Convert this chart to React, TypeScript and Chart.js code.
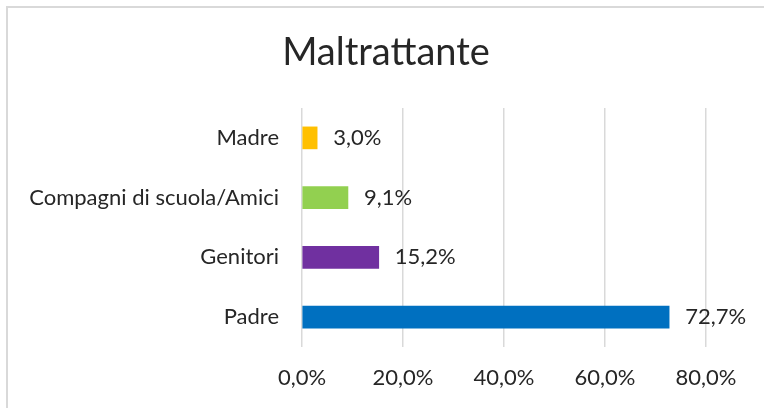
import React, { useEffect, useRef } from "react";
import { Chart, registerables } from "chart.js";

Chart.register(...registerables);

const categories = ["Madre", "Compagni di scuola/Amici", "Genitori", "Padre"];
const values = [3.0, 9.1, 15.2, 72.7];
const barColors = ["#FFC000", "#92D050", "#7030A0", "#0070C0"];
const xTicks = [0, 20, 40, 60, 80];
const titleText = "Maltrattante";

const FONT = "Lato, 'Open Sans', sans-serif";
const TEXT = "#262626";

const fmt = (v: number) => v.toFixed(1).replace(".", ",") + "%";

const frame = {
  id: "frame",
  beforeDraw(chart: any) {
    const ctx = chart.ctx;
    ctx.save();
    ctx.fillStyle = "#ffffff";
    ctx.fillRect(0, 0, chart.width, chart.height);
    ctx.strokeStyle = "#d9d9d9";
    ctx.lineWidth = 2;
    ctx.strokeRect(7, 7, chart.width + 20, chart.height + 20);
    ctx.font = `38px ${FONT}`;
    ctx.fillStyle = TEXT;
    ctx.textAlign = "center";
    ctx.textBaseline = "middle";
    ctx.fillText(titleText, 386, 53);
    ctx.restore();
  },
};

const valueLabels = {
  id: "valueLabels",
  afterDatasetsDraw(chart: any) {
    const ctx = chart.ctx;
    const meta = chart.getDatasetMeta(0);
    ctx.save();
    ctx.font = `22px ${FONT}`;
    ctx.fillStyle = TEXT;
    ctx.textAlign = "left";
    ctx.textBaseline = "middle";
    meta.data.forEach((bar: any, i: number) => {
      ctx.fillText(fmt(values[i]), bar.x + 16, bar.y);
    });
    ctx.restore();
  },
};

export default function App() {
  const ref = useRef<HTMLCanvasElement | null>(null);
  useEffect(() => {
    if (!ref.current) return;
    const chart = new Chart(ref.current, {
      type: "bar",
      data: {
        labels: categories,
        datasets: [
          {
            data: values,
            backgroundColor: barColors,
            borderWidth: 0,
            barThickness: 22,
          },
        ],
      },
      options: {
        indexAxis: "y",
        responsive: false,
        animation: false,
        layout: { padding: { left: 0, right: 58, top: 108, bottom: 0 } },
        plugins: {
          legend: { display: false },
          tooltip: { enabled: false },
          title: { display: false },
        },
        scales: {
          x: {
            min: 0,
            max: 80,
            afterBuildTicks: (scale: any) => {
              scale.ticks = xTicks.map((v) => ({ value: v }));
            },
            afterFit: (scale: any) => {
              scale.height = 61;
            },
            grid: { color: "#d9d9d9", lineWidth: 1.5, drawTicks: false },
            border: { display: false },
            ticks: {
              color: TEXT,
              padding: 18,
              font: { family: FONT, size: 22 },
              callback: (v: any) => fmt(Number(v)),
            },
          },
          y: {
            afterFit: (scale: any) => {
              scale.width = 302;
            },
            grid: { display: false, drawTicks: false },
            border: { display: false },
            ticks: {
              color: TEXT,
              padding: 23,
              font: { family: FONT, size: 22 },
            },
          },
        },
      },
      plugins: [frame, valueLabels],
    });
    return () => chart.destroy();
  }, []);
  return (
    <div style={{ position: "fixed", left: 0, top: 0, width: 764, height: 408 }}>
      <canvas ref={ref} width={764} height={408} style={{ display: "block" }} />
    </div>
  );
}
